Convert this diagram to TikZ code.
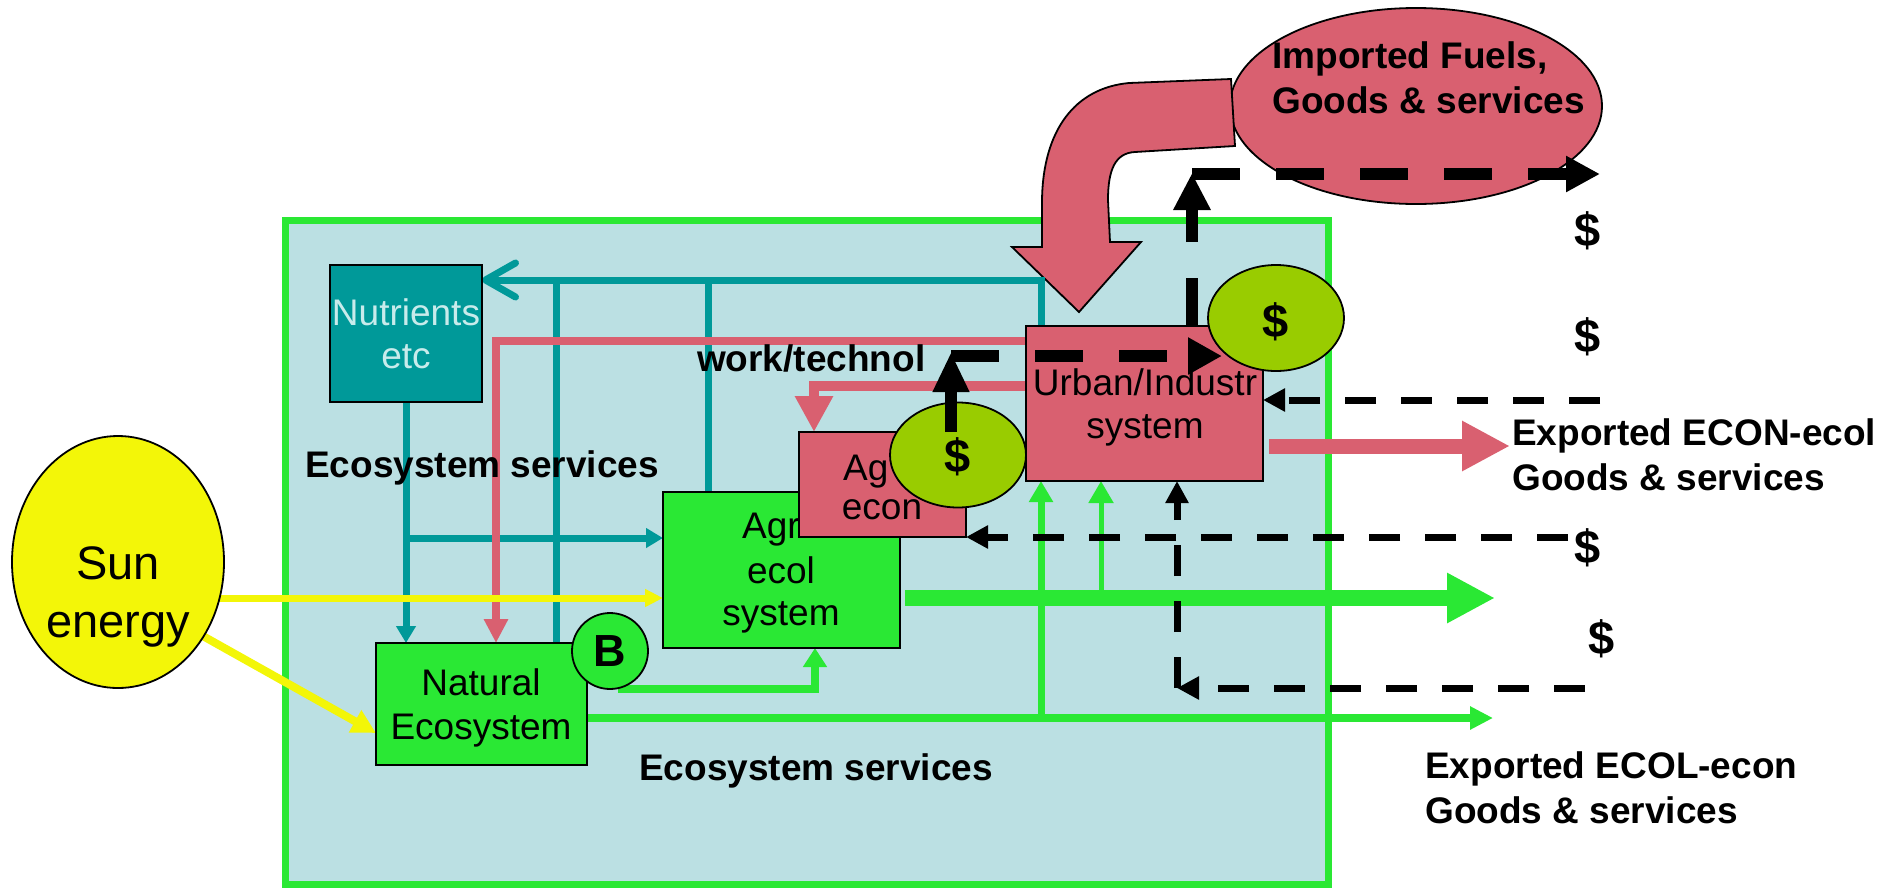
\documentclass[tikz,border=0pt]{standalone}
\usepackage{fontspec}
\setmainfont{Liberation Sans}
\usetikzlibrary{arrows.meta,shapes.geometric,calc}
\definecolor{pinkc}{RGB}{217,96,112}
\definecolor{tealc}{RGB}{0,153,153}
\definecolor{brgreen}{RGB}{42,232,52}
\definecolor{lightblue}{RGB}{187,224,227}
\definecolor{olivec}{RGB}{153,204,0}
\definecolor{sunyellow}{RGB}{243,246,8}
\definecolor{nuttext}{RGB}{200,235,235}
\begin{document}
\begin{tikzpicture}[x=1pt,y=-1pt,
  sysbox/.style={draw=black, line width=1.8pt, rectangle, inner sep=0pt, outer sep=0pt, anchor=north west},
  oval/.style={draw=black, line width=1.8pt, ellipse, inner sep=0pt, outer sep=0pt},
  boxtext/.style={font=\fontsize{37}{44}\selectfont, inner sep=0pt, anchor=base},
  boldtext/.style={font=\fontsize{37}{44}\selectfont\bfseries, inner sep=0pt, anchor=base west},
  money/.style={font=\fontsize{47}{54}\selectfont\bfseries, inner sep=0pt},
  tealflow/.style={draw=tealc, line width=7pt},
  pinkflow/.style={draw=pinkc, line width=8pt},
  sunflow/.style={draw=sunyellow, line width=7pt},
  greenflow/.style={draw=brgreen, line width=8pt},
  cashthick/.style={draw=black, line width=12pt, dash pattern=on 48pt off 36pt},
  cashthin/.style={draw=black, line width=7pt, dash pattern=on 31pt off 25pt},
]
\useasboundingbox (0,0) rectangle (1901,887);

% environment
\node[draw=brgreen, fill=lightblue, line width=7pt, rectangle, inner sep=0pt, outer sep=0pt,
      anchor=north west, minimum width=1043pt, minimum height=664pt] (env) at (285,220) {};

% imported ellipse and big arrow
\node[oval, fill=pinkc, minimum width=372pt, minimum height=196pt] (imp) at (1416,106) {};
\filldraw[fill=pinkc, draw=black, line width=1.8pt]
  (1231,79) -- (1129,83) .. controls (1075,88) and (1043,130) .. (1042,200) -- (1042,247)
  -- (1012,247) -- (1079,312) -- (1141,242) -- (1110,242) -- (1108,200)
  .. controls (1108,170) and (1115,153) .. (1135,152) -- (1235,146) -- cycle;

% named boxes (positions only, drawn later)
\path (330,265) node[sysbox, draw=none, minimum width=152pt, minimum height=137pt] (nut) {};
\path (376,643) node[sysbox, draw=none, minimum width=211pt, minimum height=122pt] (nat) {};
\path (663,492) node[sysbox, draw=none, minimum width=237pt, minimum height=156pt] (agri) {};
\path (799,432) node[sysbox, draw=none, minimum width=167pt, minimum height=105pt] (aecon) {};
\path (1026,326) node[sysbox, draw=none, minimum width=237pt, minimum height=155pt] (ui) {};
\path (118,562) node[oval, draw=none, minimum width=212pt, minimum height=252pt] (sun) {};
\path (610,651) node[oval, draw=none, minimum width=76pt, minimum height=76pt] (B) {};

% teal flows
\draw[tealflow, -{Straight Barb[length=30pt,width=34pt,round]}] (ui.north -| 1041,0) -- (1041,280) -- (nut.east |- 0,280);
\draw[tealflow] (nat.north -| 556,0) -- (556,280);
\draw[tealflow] (agri.north -| 708,0) -- (708,280);
\draw[tealflow, -{Triangle[length=17pt,width=19pt]}] (nut.south) -- (nut.south |- nat.north);
\draw[tealflow, -{Triangle[length=17pt,width=19pt]}] (nut.south |- 0,538) -- (agri.west |- 0,538);

% pink flows
\draw[pinkflow, -{Triangle[length=24pt,width=23pt]}] (ui.west |- 0,341) -- (496,341) -- (nat.north -| 496,0);
\draw[pinkflow, line width=10pt, -{Triangle[length=36pt,width=36pt]}] (ui.west |- 0,386) -- (814,386) -- (aecon.north -| 814,0);
\draw[pinkflow, line width=15pt, -{Triangle[length=48pt,width=47pt]}] ($(ui.east |- 0,446)+(6,0)$) -- (1510,446);

% sun flows
\draw[sunflow, -{Triangle[length=18pt,width=17pt]}] (sun.center |- 0,598) -- (agri.west |- 0,598);
\draw[sunflow, line width=8pt, -{Triangle[length=24pt,width=24pt]}] (sun.-41) -- (nat.west |- 0,733);

% green flows
\draw[greenflow, line width=16pt, -{Triangle[length=48pt,width=47pt]}] ($(agri.east |- 0,598)+(5,0)$) -- (1495,598);
\draw[greenflow, -{Triangle[length=23pt,width=22pt]}] (nat.east |- 0,718) -- (1493,718);
\draw[greenflow, line width=7pt, -{Triangle[length=21pt,width=23pt]}] (1041,718) -- (ui.south -| 1041,0);
\draw[greenflow, line width=5pt, -{Triangle[length=22pt,width=24pt]}] (1101,598) -- (ui.south -| 1101,0);
\draw[greenflow, -{Triangle[length=19pt,width=23pt]}] ($(B.south)+(8,0)$) -| (agri.south -| 815,0);

% boxes drawn
\node[sysbox, fill=tealc, minimum width=152pt, minimum height=137pt] at (330,265) {};
\node[boxtext, text=nuttext] (nutA) at (406,325) {Nutrients};
\node[boxtext, text=nuttext] (nutB) at (406,368) {etc};

\node[sysbox, fill=brgreen, minimum width=211pt, minimum height=122pt] at (376,643) {};
\node[boxtext] (natA) at (481,695) {Natural};
\node[boxtext] (natB) at (481,739) {Ecosystem};

\node[oval, fill=brgreen, minimum width=76pt, minimum height=76pt] at (610,651) {};
\node[font=\fontsize{45}{50}\selectfont\bfseries, inner sep=0pt] (Btext) at (610,651) {B};

\node[sysbox, fill=brgreen, minimum width=237pt, minimum height=156pt] at (663,492) {};
\node[boxtext, anchor=base west] (agA) at (742,538) {Agr};
\node[boxtext] (agB) at (781,583) {ecol};
\node[boxtext] (agC) at (781,625) {system};

\node[sysbox, fill=pinkc, minimum width=167pt, minimum height=105pt] at (799,432) {};
\node[boxtext, anchor=base west] (aeA) at (843,480) {Ag};
\node[boxtext] (aeB) at (882,519) {econ};

\node[oval, fill=olivec, minimum width=136pt, minimum height=105pt] (usd1) at (958,455) {};
\node[money] (usd1t) at (958,457) {\$};

\node[sysbox, fill=pinkc, minimum width=237pt, minimum height=155pt] at (1026,326) {};
\node[boxtext] (uiA) at (1145,395) {Urban/Industr};
\node[boxtext] (uiB) at (1145,438) {system};

\node[oval, fill=olivec, minimum width=136pt, minimum height=106pt] (usd2) at (1276,318) {};
\node[money] (usd2t) at (1276,322) {\$};

\node[oval, fill=sunyellow, minimum width=212pt, minimum height=252pt] at (118,562) {};
\node[font=\fontsize{47}{56}\selectfont, inner sep=0pt, anchor=base] (sunA) at (118,579) {Sun};
\node[font=\fontsize{47}{56}\selectfont, inner sep=0pt, anchor=base] (sunB) at (118,637) {energy};

% labels
\node[boldtext] (es1) at (305,477) {Ecosystem services};
\node[boldtext] (es2) at (639,780) {Ecosystem services};
\node[boldtext] (wt) at (697,371) {work/technol};
\node[boldtext] (impA) at (1272,68) {Imported Fuels,};
\node[boldtext] (impB) at (1272,113) {Goods \& services};
\node[boldtext] (exA) at (1512,445) {Exported ECON-ecol};
\node[boldtext] (exB) at (1512,490) {Goods \& services};
\node[boldtext] (exC) at (1425,778) {Exported ECOL-econ};
\node[boldtext] (exD) at (1425,823) {Goods \& services};

\node[money] (d1) at (1588,231) {\$};
\node[money] (d2) at (1588,337) {\$};
\node[money] (d3) at (1588,548) {\$};
\node[money] (d4) at (1602,639) {\$};

% money flows
\coordinate (topcorner) at (1192,174);
\coordinate (topend) at (1600,174);
\coordinate (wtcorner) at (951,356);
\coordinate (wtend) at (1222,356);
\draw[cashthick, -{Triangle[length=37pt,width=35pt]}] (ui.north -| topcorner) -- (1192,173);
\draw[cashthick, -{Triangle[length=34pt,width=34pt]}] (topcorner) -- (topend);
\draw[cashthick, -{Triangle[length=40pt,width=34pt]}] (aecon.north -| wtcorner) -- (951,352);
\draw[cashthick, -{Triangle[length=34pt,width=35pt]}] (wtcorner) -- (wtend);

\coordinate (r400) at (1600,400);
\coordinate (r537) at (1568,537);
\coordinate (r688) at (1585,688);
\coordinate (botcorner) at (1177,688);
\draw[cashthin, -{Triangle[length=22pt,width=22pt]}] (r400) -- (ui.east |- r400);
\draw[cashthin, -{Triangle[length=22pt,width=22pt]}] (r537) -- (aecon.south east);
\draw[cashthin, -{Triangle[length=22pt,width=22pt]}] (r688) -- (botcorner);
\draw[cashthin, -{Triangle[length=22pt,width=22pt]}] (botcorner) -- (ui.south -| botcorner);
\end{tikzpicture}
\end{document}
